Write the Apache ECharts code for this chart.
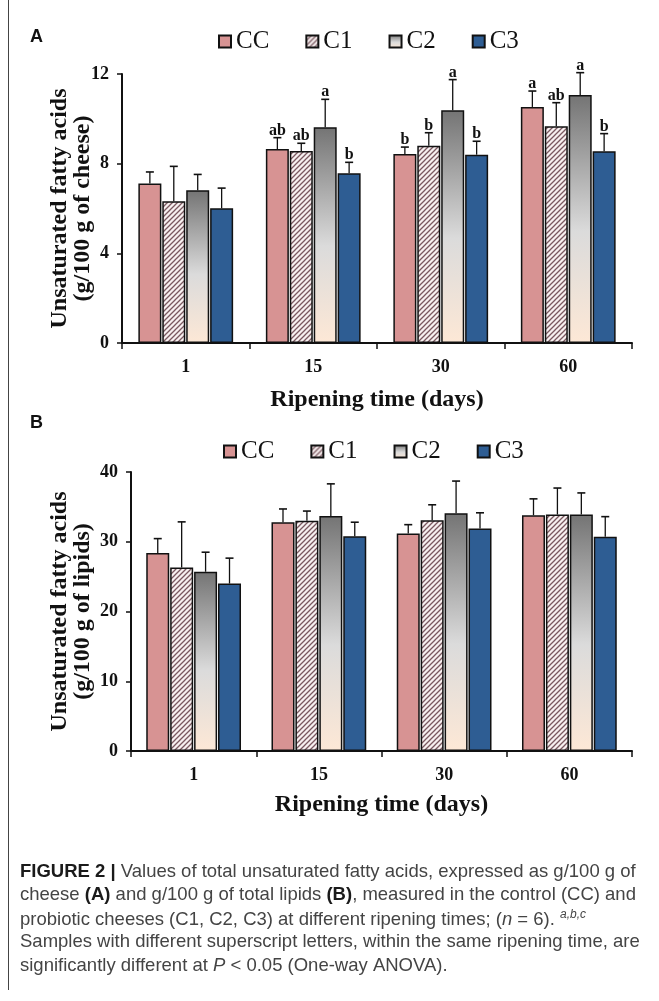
<!DOCTYPE html>
<html>
<head>
<meta charset="utf-8">
<script src="https://cdn.jsdelivr.net/npm/echarts@6/dist/echarts.min.js"></script>
<style>
html,body{margin:0;padding:0;background:#fff;}
#chart{width:659px;height:1001px;}
</style>
</head>
<body>
<div id="chart"></div>
<script>
// ---------- data ----------
const categories = ['1', '15', '30', '60'];
const seriesNames = ['CC', 'C1', 'C2', 'C3'];

// Panel A: g/100 g of cheese
const aCC = [7.11, 8.65, 8.43, 10.53];
const aC1 = [6.32, 8.56, 8.80, 9.67];
const aC2 = [6.81, 9.62, 10.38, 11.06];
const aC3 = [6.01, 7.57, 8.40, 8.55];
const aCCerr = [0.52, 0.51, 0.31, 0.71];
const aC1err = [1.56, 0.35, 0.58, 1.05];
const aC2err = [0.71, 1.25, 1.37, 1.00];
const aC3err = [0.90, 0.49, 0.60, 0.79];
const aCCsig = ['', 'ab', 'b', 'a'];
const aC1sig = ['', 'ab', 'b', 'ab'];
const aC2sig = ['', 'a', 'a', 'a'];
const aC3sig = ['', 'b', 'b', 'b'];
const aTicks = [0, 4, 8, 12];

// Panel B: g/100 g of lipids
const bCC = [28.4, 32.8, 31.2, 33.8];
const bC1 = [26.3, 33.0, 33.1, 33.9];
const bC2 = [25.7, 33.7, 34.1, 33.9];
const bC3 = [24.0, 30.8, 31.9, 30.7];
const bCCerr = [2.05, 1.9, 1.25, 2.35];
const bC1err = [6.55, 1.4, 2.2, 3.8];
const bC2err = [2.8, 4.6, 4.6, 3.1];
const bC3err = [3.65, 2.0, 2.25, 2.9];
const bTicks = [0, 10, 20, 30, 40];

// ---------- styles ----------
const SERIF = '"Liberation Serif", "DejaVu Serif", serif';
const SANS = '"Liberation Sans", Arial, sans-serif';
const BAR_W = 23;
const BAR_GAP = 0.04;
const PITCH = BAR_W * (1 + BAR_GAP);

function hatch() {
  const c = document.createElement('canvas');
  c.width = 5; c.height = 5;
  const g = c.getContext('2d');
  g.fillStyle = '#f7f0f0';
  g.fillRect(0, 0, 5, 5);
  g.strokeStyle = '#7a5860';
  g.lineWidth = 1.3;
  g.beginPath();
  g.moveTo(-1, 6); g.lineTo(6, -1);
  g.moveTo(-1, 1); g.lineTo(1, -1);
  g.moveTo(4, 6); g.lineTo(6, 4);
  g.stroke();
  return c;
}
const hatchCanvas = hatch();

const fills = [
  '#d79393',
  { image: hatchCanvas, repeat: 'repeat' },
  new echarts.graphic.LinearGradient(0, 0, 0, 1, [
    { offset: 0, color: '#747474' },
    { offset: 0.55, color: '#dbdbdb' },
    { offset: 1, color: '#fde8d6' }
  ]),
  '#2e5d93'
];

function barSeries(name, idx, data, g) {
  return {
    name: name, type: 'bar', xAxisIndex: g, yAxisIndex: g,
    barWidth: BAR_W, barGap: (BAR_GAP * 100) + '%',
    data: data,
    itemStyle: { color: fills[idx], borderColor: '#111', borderWidth: 1.5 },
    emphasis: { disabled: true },
    z: 2
  };
}

function errSeries(idx, vals, errs, sig, g) {
  return {
    type: 'custom', xAxisIndex: g, yAxisIndex: g, z: 10, silent: true,
    data: vals.map((v, i) => [i, v, errs[i]]),
    renderItem: function (params, api) {
      const p0 = api.coord([api.value(0), api.value(1)]);
      const p1 = api.coord([api.value(0), api.value(1) + api.value(2)]);
      const x = p0[0] + (idx - 1.5) * PITCH;
      const children = [
        { type: 'line', shape: { x1: x, y1: p0[1], x2: x, y2: p1[1] }, style: { stroke: '#111', lineWidth: 1.3 } },
        { type: 'line', shape: { x1: x - 4, y1: p1[1], x2: x + 4, y2: p1[1] }, style: { stroke: '#111', lineWidth: 1.6 } }
      ];
      const s = sig ? sig[params.dataIndex] : '';
      if (s) {
        children.push({
          type: 'text', x: x, y: p1[1] + 1,
          style: { text: s, align: 'center', verticalAlign: 'bottom', font: 'bold 16px ' + SERIF, fill: '#111' }
        });
      }
      return { type: 'group', children: children };
    }
  };
}

function xAxis(g, nameGap) {
  return {
    type: 'category', gridIndex: g, data: categories,
    name: 'Ripening time (days)', nameLocation: 'middle', nameGap: nameGap, nameMoveOverlap: false,
    nameTextStyle: { fontFamily: SERIF, fontWeight: 'bold', fontSize: 24, color: '#111' },
    axisLine: { lineStyle: { color: '#111', width: 2 } },
    axisTick: { show: true, length: 6, lineStyle: { color: '#111', width: 1.5 } },
    axisLabel: { margin: 15, fontFamily: SERIF, fontWeight: 'bold', fontSize: 18, color: '#111' },
    splitLine: { show: false }
  };
}

function yAxis(g, max, interval, name, ticks, nameGap) {
  return {
    type: 'value', gridIndex: g, min: ticks[0], max: max, interval: interval,
    name: name, nameLocation: 'middle', nameRotate: 90, nameGap: nameGap, nameMoveOverlap: false,
    nameTextStyle: { fontFamily: SERIF, fontWeight: 'bold', fontSize: 24, color: '#111', lineHeight: 23 },
    axisLine: { show: true, lineStyle: { color: '#111', width: 2 } },
    axisTick: { show: true, length: 5, lineStyle: { color: '#111', width: 1.5 } },
    axisLabel: { margin: 13, fontFamily: SERIF, fontWeight: 'bold', fontSize: 18, color: '#111' },
    splitLine: { show: false }
  };
}

const legendCommon = {
  data: seriesNames, icon: 'rect', itemWidth: 12, itemHeight: 12, itemGap: 36,
  padding: 0, selectedMode: false,
  textStyle: { fontFamily: SERIF, fontSize: 25, color: '#111' }
};

const capLines = [
  '{b|FIGURE 2 |} Values of total unsaturated fatty acids, expressed as g/100 g of',
  'cheese {b|(A)} and g/100 g of total lipids {b|(B)}, measured in the control (CC) and',
  'probiotic cheeses (C1, C2, C3) at different ripening times; ({i|n} = 6). {sup|a,b,c}',
  'Samples with different superscript letters, within the same ripening time, are',
  'significantly different at {i|P} < 0.05 (One-way ANOVA).'
];
const CAP_FS = 18.5;

const chart = echarts.init(document.getElementById('chart'), null, { renderer: 'canvas' });
chart.setOption({
  animation: false,
  backgroundColor: '#fff',
  grid: [
    { left: 122, top: 74, width: 510, height: 269 },
    { left: 131, top: 472, width: 501, height: 279 }
  ],
  legend: [
    Object.assign({}, legendCommon, { left: 218, top: 29 }),
    Object.assign({}, legendCommon, { left: 223, top: 439 })
  ],
  xAxis: [xAxis(0, 45), xAxis(1, 42)],
  yAxis: [
    yAxis(0, aTicks[aTicks.length - 1], aTicks[1] - aTicks[0], 'Unsaturated fatty acids\n(g/100 g of cheese)', aTicks, 28),
    yAxis(1, bTicks[bTicks.length - 1], bTicks[1] - bTicks[0], 'Unsaturated fatty acids\n(g/100 g of lipids)', bTicks, 37)
  ],
  series: [
    barSeries('CC', 0, aCC, 0), barSeries('C1', 1, aC1, 0), barSeries('C2', 2, aC2, 0), barSeries('C3', 3, aC3, 0),
    errSeries(0, aCC, aCCerr, aCCsig, 0), errSeries(1, aC1, aC1err, aC1sig, 0),
    errSeries(2, aC2, aC2err, aC2sig, 0), errSeries(3, aC3, aC3err, aC3sig, 0),
    barSeries('CC', 0, bCC, 1), barSeries('C1', 1, bC1, 1), barSeries('C2', 2, bC2, 1), barSeries('C3', 3, bC3, 1),
    errSeries(0, bCC, bCCerr, null, 1), errSeries(1, bC1, bC1err, null, 1),
    errSeries(2, bC2, bC2err, null, 1), errSeries(3, bC3, bC3err, null, 1)
  ],
  graphic: [
    { type: 'line', shape: { x1: 8.5, y1: 0, x2: 8.5, y2: 990 }, style: { stroke: '#444', lineWidth: 1 } },
    { type: 'text', left: 30, top: 28, style: { text: 'A', font: 'bold 18px ' + SANS, fill: '#111' } },
    { type: 'text', left: 30, top: 414, style: { text: 'B', font: 'bold 18px ' + SANS, fill: '#111' } }
  ].concat(capLines.map((t, i) => ({
    type: 'text', left: 20, top: 862 + i * 23.5,
    style: {
      text: t, font: CAP_FS + 'px ' + SANS, fill: '#444',
      rich: {
        b: { fontFamily: SANS, fontSize: CAP_FS, fontWeight: 'bold', fill: '#1a1a1a' },
        i: { fontFamily: SANS, fontSize: CAP_FS, fontStyle: 'italic', fill: '#444' },
        sup: { fontFamily: SANS, fontSize: 12, fontStyle: 'italic', fill: '#444', verticalAlign: 'top', padding: [0, 0, 9, 0] }
      }
    }
  })))
});
</script>
</body>
</html>
